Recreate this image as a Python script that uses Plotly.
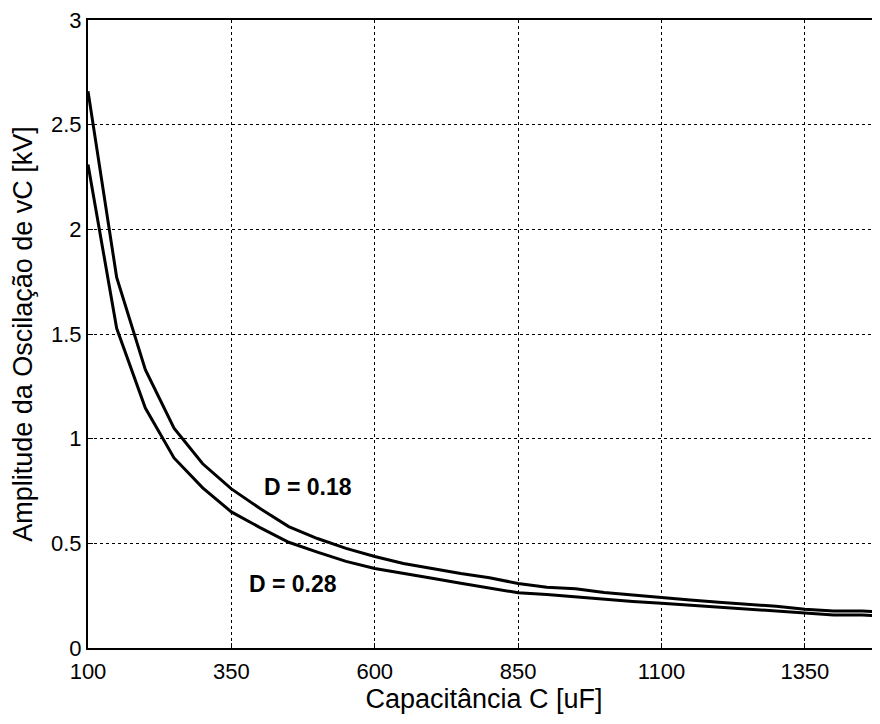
import plotly.graph_objects as go

capacitance = [100, 150, 200, 250, 300, 350, 400, 450, 500, 550, 600, 650, 700, 750,
               800, 850, 900, 950, 1000, 1050, 1100, 1150, 1200, 1250, 1300, 1350,
               1400, 1450, 1500]
amp_d018 = [2.66, 1.77, 1.33, 1.05, 0.88, 0.76, 0.666, 0.58, 0.523, 0.476, 0.437,
            0.404, 0.38, 0.356, 0.336, 0.308, 0.29, 0.283, 0.265, 0.253, 0.238,
            0.229, 0.219, 0.209, 0.199, 0.185, 0.177, 0.177, 0.17]
amp_d028 = [2.31, 1.527, 1.146, 0.908, 0.765, 0.65, 0.575, 0.505, 0.458, 0.414,
            0.38, 0.355, 0.333, 0.309, 0.285, 0.264, 0.255, 0.243, 0.232, 0.222,
            0.214, 0.205, 0.195, 0.186, 0.176, 0.166, 0.158, 0.158, 0.15]
labels = ["D = 0.18", "D = 0.28"]
label_x = [483, 457]
label_y = [0.767, 0.308]
x_ticks = [100, 350, 600, 850, 1100, 1350]
y_ticks = [0, 0.5, 1, 1.5, 2, 2.5, 3]
y_ticktext = ["0", "0.5", "1", "1.5", "2", "2.5", "3"]

FONT = "Liberation Sans, Arial, sans-serif"

fig = go.Figure()
fig.add_trace(go.Scatter(x=capacitance, y=amp_d018, mode="lines",
                         line=dict(color="black", width=3), showlegend=False))
fig.add_trace(go.Scatter(x=capacitance, y=amp_d028, mode="lines",
                         line=dict(color="black", width=3), showlegend=False))

for t, xx, yy in zip(labels, label_x, label_y):
    fig.add_annotation(x=xx, y=yy, text="<b>%s</b>" % t, showarrow=False,
                       font=dict(size=23, color="black", family=FONT))

# page body has an 8px default margin; compensate so plot area sits at 88..880 x 17..648
fig.update_layout(
    width=872, height=708,
    margin=dict(l=80, r=0, t=9, b=68),
    paper_bgcolor="white", plot_bgcolor="white",
    font=dict(family=FONT, size=22, color="black"),
)
fig.update_xaxes(
    range=[100, 1481], tickvals=x_ticks, ticktext=[str(v) for v in x_ticks],
    showgrid=True, gridcolor="black", griddash="dot", gridwidth=1,
    showline=True, linecolor="black", linewidth=2, mirror=True,
    ticks="inside", ticklen=5, tickcolor="black", zeroline=False,
    tickfont=dict(size=22), ticklabelstandoff=3, ticklabeloverflow="allow",
    title=dict(text="Capacitância C [uF]", font=dict(size=27), standoff=6),
)
fig.update_yaxes(
    range=[0, 3], tickvals=y_ticks, ticktext=y_ticktext,
    showgrid=True, gridcolor="black", griddash="dot", gridwidth=1,
    showline=True, linecolor="black", linewidth=2, mirror=False,
    ticks="inside", ticklen=5, tickcolor="black", zeroline=False,
    tickfont=dict(size=22), ticklabeloverflow="allow",
    title=dict(text="Amplitude da Oscilação de vC [kV]", font=dict(size=27), standoff=12),
)

fig.write_html("out.html")
